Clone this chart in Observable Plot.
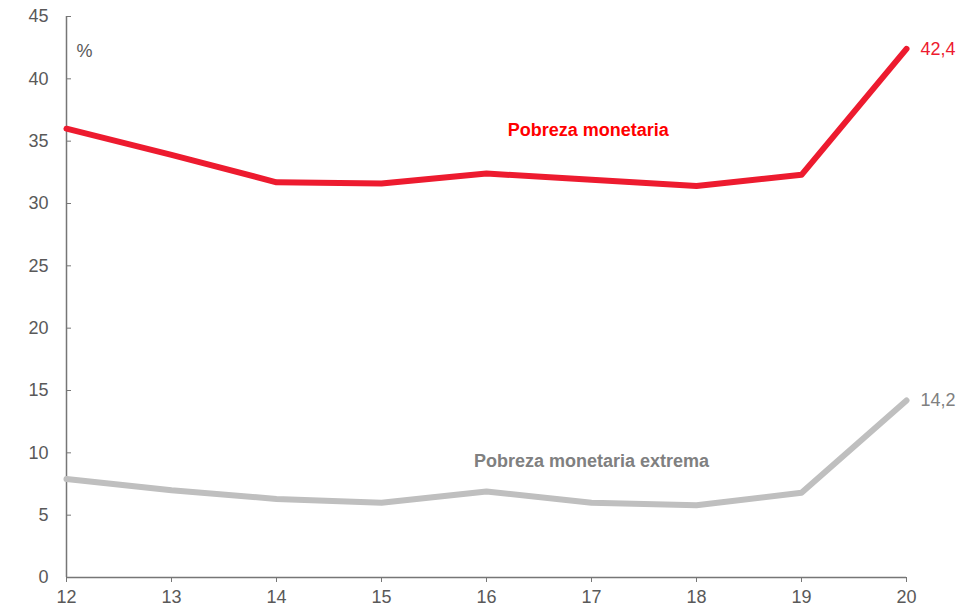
<!DOCTYPE html>
<html><head><meta charset="utf-8">
<script src="https://cdn.jsdelivr.net/npm/d3@7"></script>
<script src="https://cdn.jsdelivr.net/npm/@observablehq/plot@0.6"></script>
<style>body{margin:0;background:#fff;font-family:"Liberation Sans",Arial,sans-serif;}</style>
</head><body><div id="chart"></div>
<script>
const years = [12, 13, 14, 15, 16, 17, 18, 19, 20];
const pobreza = [36.0, 33.9, 31.7, 31.6, 32.4, 31.9, 31.4, 32.3, 42.4];
const extrema = [7.9, 7.0, 6.3, 6.0, 6.9, 6.0, 5.8, 6.8, 14.2];
const yTicks = [0, 5, 10, 15, 20, 25, 30, 35, 40, 45];
const seriesNames = ["Pobreza monetaria", "Pobreza monetaria extrema"];
const endLabels = ["42,4", "14,2"];

const red = years.map((x, i) => ({x, y: pobreza[i]}));
const gray = years.map((x, i) => ({x, y: extrema[i]}));
const last = years.length - 1;

const chart = Plot.plot({
  width: 969, height: 608,
  marginLeft: 66, marginRight: 63, marginTop: 16, marginBottom: 31,
  style: {fontFamily: "Liberation Sans, Arial, sans-serif", fontSize: "18px", color: "#595959", background: "#fff"},
  x: {domain: [12, 20]},
  y: {domain: [0, 45]},
  marks: [
    Plot.axisY({ticks: yTicks, tickSize: -5, tickPadding: 23, label: null, fontSize: 18, stroke: "#767676", fill: "#595959"}),
    Plot.axisX({ticks: years, tickSize: 5, tickPadding: 8, label: null, fontSize: 18, stroke: "#767676", fill: "#595959"}),
    Plot.ruleX([12], {stroke: "#767676", strokeWidth: 1.5}),
    Plot.ruleY([0], {stroke: "#767676", strokeWidth: 1.5}),
    Plot.line(gray, {x: "x", y: "y", stroke: "#BFBFBF", strokeWidth: 6, strokeLinecap: "round", strokeLinejoin: "round"}),
    Plot.line(red, {x: "x", y: "y", stroke: "#ED1B2F", strokeWidth: 6, strokeLinecap: "round", strokeLinejoin: "round"}),
    Plot.text([red[last]], {x: "x", y: "y", text: () => endLabels[0], dx: 14, textAnchor: "start", fill: "#ED1B2F", fontSize: 18}),
    Plot.text([gray[last]], {x: "x", y: "y", text: () => endLabels[1], dx: 14, textAnchor: "start", fill: "#808080", fontSize: 18}),
    Plot.text([{x: 16.97, y: 35.9}], {x: "x", y: "y", text: () => seriesNames[0], fill: "#FF0000", fontWeight: "bold", fontSize: 18}),
    Plot.text([{x: 17.0, y: 9.3}], {x: "x", y: "y", text: () => seriesNames[1], fill: "#808080", fontWeight: "bold", fontSize: 18}),
    Plot.text([{x: 12, y: 42.2}], {x: "x", y: "y", text: () => "%", dx: 10, textAnchor: "start", fill: "#595959", fontSize: 18})
  ]
});
document.getElementById("chart").appendChild(chart);
</script></body></html>
